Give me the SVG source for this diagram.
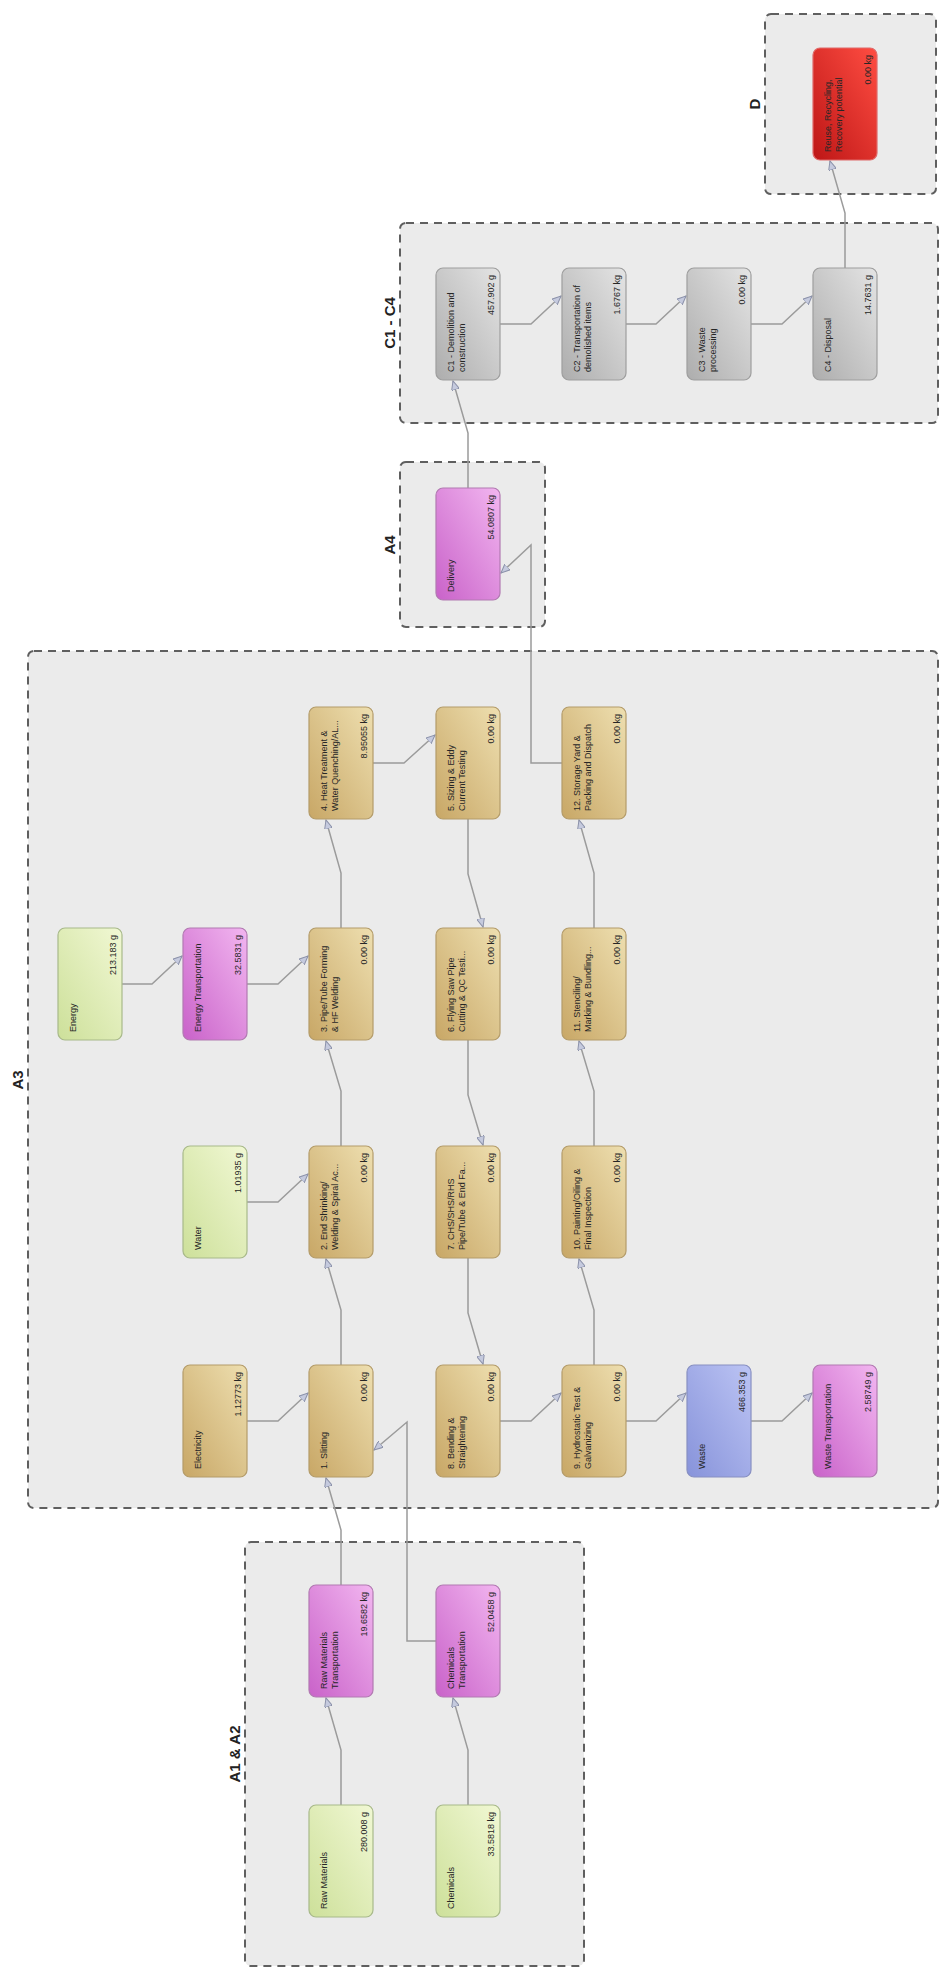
<svg xmlns="http://www.w3.org/2000/svg" width="943" height="1973" viewBox="0 0 943 1973">
<defs>
<linearGradient id="gTan" x1="1" y1="0" x2="0" y2="1"><stop offset="0" stop-color="#eedfb0"/><stop offset="1" stop-color="#c8a766"/></linearGradient>
<linearGradient id="gGreen" x1="1" y1="0" x2="0" y2="1"><stop offset="0" stop-color="#f1f8d4"/><stop offset="1" stop-color="#cde09a"/></linearGradient>
<linearGradient id="gPink" x1="1" y1="0" x2="0" y2="1"><stop offset="0" stop-color="#f2b6f0"/><stop offset="1" stop-color="#c962c9"/></linearGradient>
<linearGradient id="gBlue" x1="1" y1="0" x2="0" y2="1"><stop offset="0" stop-color="#bcc4f4"/><stop offset="1" stop-color="#8793da"/></linearGradient>
<linearGradient id="gGray" x1="1" y1="0" x2="0" y2="1"><stop offset="0" stop-color="#e4e4e4"/><stop offset="1" stop-color="#adadad"/></linearGradient>
<linearGradient id="gRed" x1="1" y1="0" x2="0" y2="1"><stop offset="0" stop-color="#ff4d42"/><stop offset="1" stop-color="#bd1616"/></linearGradient>
<marker id="arr" markerUnits="userSpaceOnUse" markerWidth="10" markerHeight="8" refX="9" refY="4" orient="auto">
<path d="M0,0 L9,4 L0,8 z" fill="#c5cade" stroke="#8c92aa" stroke-width="1"/>
</marker>
</defs>
<style>
.grp{fill:#ebebeb;stroke:#5f5f5f;stroke-width:2;stroke-dasharray:8 6}
.glbl{font-family:"Liberation Sans",Arial,sans-serif;font-size:15px;font-weight:bold;fill:#222;text-anchor:middle}
.nd{stroke-width:1.2}
.tan{fill:url(#gTan);stroke:#b49c6a}
.green{fill:url(#gGreen);stroke:#a8b98a}
.pink{fill:url(#gPink);stroke:#b27ab2}
.blue{fill:url(#gBlue);stroke:#8890c2}
.gray{fill:url(#gGray);stroke:#9e9e9e}
.red{fill:url(#gRed);stroke:#e06a6a}
.t{font-family:"Liberation Sans",Arial,sans-serif;font-size:9px;fill:#262626}
.v{font-family:"Liberation Sans",Arial,sans-serif;font-size:9px;fill:#262626;text-anchor:end}
.cn{fill:none;stroke:#9b9b9b;stroke-width:1.5;marker-end:url(#arr)}
</style>
<rect width="943" height="1973" fill="#ffffff"/>

<g id="groups">
<g id="grp-D"><rect class="grp" x="765" y="14" width="171" height="180" rx="6"/><text class="glbl" transform="translate(760,104) rotate(-90)">D</text></g>
<g id="grp-C"><rect class="grp" x="400" y="223" width="538" height="200" rx="6"/><text class="glbl" transform="translate(395,323) rotate(-90)">C1 - C4</text></g>
<g id="grp-A4"><rect class="grp" x="400" y="462" width="145" height="165" rx="6"/><text class="glbl" transform="translate(395,545) rotate(-90)">A4</text></g>
<g id="grp-A3"><rect class="grp" x="28" y="651" width="910" height="857" rx="6"/><text class="glbl" transform="translate(23,1080) rotate(-90)">A3</text></g>
<g id="grp-A12"><rect class="grp" x="245" y="1542" width="339" height="424" rx="6"/><text class="glbl" transform="translate(240,1754) rotate(-90)">A1 &amp; A2</text></g>
</g>

<g id="connectors">
<path class="cn" d="M341,1805 V1750 L326,1698"/>
<path class="cn" d="M468,1805 V1750 L453,1698"/>
<path class="cn" d="M341,1585 V1530 L326,1478"/>
<path class="cn" d="M436,1641 H407 V1422 L374,1450"/>
<path class="cn" d="M341,1365 V1310 L326,1259"/>
<path class="cn" d="M341,1146 V1091 L326,1041"/>
<path class="cn" d="M341,928 V873 L326,820"/>
<path class="cn" d="M594,1365 V1310 L579,1259"/>
<path class="cn" d="M594,1146 V1091 L579,1041"/>
<path class="cn" d="M594,928 V873 L579,820"/>
<path class="cn" d="M468,488 V433 L453,381"/>
<path class="cn" d="M845,268 V213 L830,161"/>
<path class="cn" d="M468,819 V874 L483,927"/>
<path class="cn" d="M468,1040 V1095 L483,1145"/>
<path class="cn" d="M468,1258 V1313 L483,1364"/>
<path class="cn" d="M122,984 H152 L182,956"/>
<path class="cn" d="M247,984 H278 L308,956"/>
<path class="cn" d="M247,1202 H278 L308,1174"/>
<path class="cn" d="M247,1421 H278 L308,1393"/>
<path class="cn" d="M373,763 H404 L435,735"/>
<path class="cn" d="M500,1421 H531 L561,1393"/>
<path class="cn" d="M626,1421 H656 L686,1393"/>
<path class="cn" d="M751,1421 H782 L812,1393"/>
<path class="cn" d="M500,324 H531 L561,296"/>
<path class="cn" d="M626,324 H656 L686,296"/>
<path class="cn" d="M751,324 H782 L812,296"/>
<path class="cn" d="M562,763 H531 V545 L501,573"/>
</g>

<g id="n-raw"><rect class="nd green" x="309" y="1805" width="64" height="112" rx="7"/><text class="t" transform="translate(327,1909) rotate(-90)">Raw Materials</text><text class="v" transform="translate(367,1812) rotate(-90)">280.008 g</text></g>
<g id="n-chem"><rect class="nd green" x="436" y="1805" width="64" height="112" rx="7"/><text class="t" transform="translate(454,1909) rotate(-90)">Chemicals</text><text class="v" transform="translate(494,1812) rotate(-90)">33.5818 kg</text></g>
<g id="n-rmt"><rect class="nd pink" x="309" y="1585" width="64" height="112" rx="7"/><text class="t" transform="translate(327,1689) rotate(-90)"><tspan x="0" y="0">Raw Materials</tspan><tspan x="0" y="11">Transportation</tspan></text><text class="v" transform="translate(367,1592) rotate(-90)">19.6582 kg</text></g>
<g id="n-cht"><rect class="nd pink" x="436" y="1585" width="64" height="112" rx="7"/><text class="t" transform="translate(454,1689) rotate(-90)"><tspan x="0" y="0">Chemicals</tspan><tspan x="0" y="11">Transportation</tspan></text><text class="v" transform="translate(494,1592) rotate(-90)">52.0458 g</text></g>

<g id="n-elec"><rect class="nd tan" x="183" y="1365" width="64" height="112" rx="7"/><text class="t" transform="translate(201,1469) rotate(-90)">Electricity</text><text class="v" transform="translate(241,1372) rotate(-90)">1.12773 kg</text></g>
<g id="n-1"><rect class="nd tan" x="309" y="1365" width="64" height="112" rx="7"/><text class="t" transform="translate(327,1469) rotate(-90)">1. Slitting</text><text class="v" transform="translate(367,1372) rotate(-90)">0.00 kg</text></g>
<g id="n-8"><rect class="nd tan" x="436" y="1365" width="64" height="112" rx="7"/><text class="t" transform="translate(454,1469) rotate(-90)"><tspan x="0" y="0">8. Bending &amp;</tspan><tspan x="0" y="11">Straightening</tspan></text><text class="v" transform="translate(494,1372) rotate(-90)">0.00 kg</text></g>
<g id="n-9"><rect class="nd tan" x="562" y="1365" width="64" height="112" rx="7"/><text class="t" transform="translate(580,1469) rotate(-90)"><tspan x="0" y="0">9. Hydrostatic Test &amp;</tspan><tspan x="0" y="11">Galvanizing</tspan></text><text class="v" transform="translate(620,1372) rotate(-90)">0.00 kg</text></g>
<g id="n-waste"><rect class="nd blue" x="687" y="1365" width="64" height="112" rx="7"/><text class="t" transform="translate(705,1469) rotate(-90)">Waste</text><text class="v" transform="translate(745,1372) rotate(-90)">466.353 g</text></g>
<g id="n-wt"><rect class="nd pink" x="813" y="1365" width="64" height="112" rx="7"/><text class="t" transform="translate(831,1469) rotate(-90)">Waste Transportation</text><text class="v" transform="translate(871,1372) rotate(-90)">2.58749 g</text></g>

<g id="n-water"><rect class="nd green" x="183" y="1146" width="64" height="112" rx="7"/><text class="t" transform="translate(201,1250) rotate(-90)">Water</text><text class="v" transform="translate(241,1153) rotate(-90)">1.01935 g</text></g>
<g id="n-2"><rect class="nd tan" x="309" y="1146" width="64" height="112" rx="7"/><text class="t" transform="translate(327,1250) rotate(-90)"><tspan x="0" y="0">2. End Shrinking/</tspan><tspan x="0" y="11">Welding &amp; Spiral Ac...</tspan></text><text class="v" transform="translate(367,1153) rotate(-90)">0.00 kg</text></g>
<g id="n-7"><rect class="nd tan" x="436" y="1146" width="64" height="112" rx="7"/><text class="t" transform="translate(454,1250) rotate(-90)"><tspan x="0" y="0">7. CHS/SHS/RHS</tspan><tspan x="0" y="11">Pipe/Tube &amp; End Fa...</tspan></text><text class="v" transform="translate(494,1153) rotate(-90)">0.00 kg</text></g>
<g id="n-10"><rect class="nd tan" x="562" y="1146" width="64" height="112" rx="7"/><text class="t" transform="translate(580,1250) rotate(-90)"><tspan x="0" y="0">10. Painting/Oiling &amp;</tspan><tspan x="0" y="11">Final Inspection</tspan></text><text class="v" transform="translate(620,1153) rotate(-90)">0.00 kg</text></g>

<g id="n-energy"><rect class="nd green" x="58" y="928" width="64" height="112" rx="7"/><text class="t" transform="translate(76,1032) rotate(-90)">Energy</text><text class="v" transform="translate(116,935) rotate(-90)">213.183 g</text></g>
<g id="n-et"><rect class="nd pink" x="183" y="928" width="64" height="112" rx="7"/><text class="t" transform="translate(201,1032) rotate(-90)">Energy Transportation</text><text class="v" transform="translate(241,935) rotate(-90)">32.5831 g</text></g>
<g id="n-3"><rect class="nd tan" x="309" y="928" width="64" height="112" rx="7"/><text class="t" transform="translate(327,1032) rotate(-90)"><tspan x="0" y="0">3. Pipe/Tube Forming</tspan><tspan x="0" y="11">&amp; HF Welding</tspan></text><text class="v" transform="translate(367,935) rotate(-90)">0.00 kg</text></g>
<g id="n-6"><rect class="nd tan" x="436" y="928" width="64" height="112" rx="7"/><text class="t" transform="translate(454,1032) rotate(-90)"><tspan x="0" y="0">6. Flying Saw Pipe</tspan><tspan x="0" y="11">Cutting &amp; QC Testi...</tspan></text><text class="v" transform="translate(494,935) rotate(-90)">0.00 kg</text></g>
<g id="n-11"><rect class="nd tan" x="562" y="928" width="64" height="112" rx="7"/><text class="t" transform="translate(580,1032) rotate(-90)"><tspan x="0" y="0">11. Stenciling/</tspan><tspan x="0" y="11">Marking &amp; Bundling...</tspan></text><text class="v" transform="translate(620,935) rotate(-90)">0.00 kg</text></g>

<g id="n-4"><rect class="nd tan" x="309" y="707" width="64" height="112" rx="7"/><text class="t" transform="translate(327,811) rotate(-90)"><tspan x="0" y="0">4. Heat Treatment &amp;</tspan><tspan x="0" y="11">Water Quenching/AL...</tspan></text><text class="v" transform="translate(367,714) rotate(-90)">8.95055 kg</text></g>
<g id="n-5"><rect class="nd tan" x="436" y="707" width="64" height="112" rx="7"/><text class="t" transform="translate(454,811) rotate(-90)"><tspan x="0" y="0">5. Sizing &amp; Eddy</tspan><tspan x="0" y="11">Current Testing</tspan></text><text class="v" transform="translate(494,714) rotate(-90)">0.00 kg</text></g>
<g id="n-12"><rect class="nd tan" x="562" y="707" width="64" height="112" rx="7"/><text class="t" transform="translate(580,811) rotate(-90)"><tspan x="0" y="0">12. Storage Yard &amp;</tspan><tspan x="0" y="11">Packing and Dispatch</tspan></text><text class="v" transform="translate(620,714) rotate(-90)">0.00 kg</text></g>

<g id="n-delivery"><rect class="nd pink" x="436" y="488" width="64" height="112" rx="7"/><text class="t" transform="translate(454,592) rotate(-90)">Delivery</text><text class="v" transform="translate(494,495) rotate(-90)">54.0807 kg</text></g>

<g id="n-c1"><rect class="nd gray" x="436" y="268" width="64" height="112" rx="7"/><text class="t" transform="translate(454,372) rotate(-90)"><tspan x="0" y="0">C1 - Demolition and</tspan><tspan x="0" y="11">construction</tspan></text><text class="v" transform="translate(494,275) rotate(-90)">457.902 g</text></g>
<g id="n-c2"><rect class="nd gray" x="562" y="268" width="64" height="112" rx="7"/><text class="t" transform="translate(580,372) rotate(-90)"><tspan x="0" y="0">C2 - Transportation of</tspan><tspan x="0" y="11">demolished items</tspan></text><text class="v" transform="translate(620,275) rotate(-90)">1.6767 kg</text></g>
<g id="n-c3"><rect class="nd gray" x="687" y="268" width="64" height="112" rx="7"/><text class="t" transform="translate(705,372) rotate(-90)"><tspan x="0" y="0">C3 - Waste</tspan><tspan x="0" y="11">processing</tspan></text><text class="v" transform="translate(745,275) rotate(-90)">0.00 kg</text></g>
<g id="n-c4"><rect class="nd gray" x="813" y="268" width="64" height="112" rx="7"/><text class="t" transform="translate(831,372) rotate(-90)">C4 - Disposal</text><text class="v" transform="translate(871,275) rotate(-90)">14.7631 g</text></g>

<g id="n-d"><rect class="nd red" x="813" y="48" width="64" height="112" rx="7"/><text class="t" transform="translate(831,152) rotate(-90)"><tspan x="0" y="0">Reuse, Recycling,</tspan><tspan x="0" y="11">Recovery potential</tspan></text><text class="v" transform="translate(871,55) rotate(-90)">0.00 kg</text></g>
</svg>
